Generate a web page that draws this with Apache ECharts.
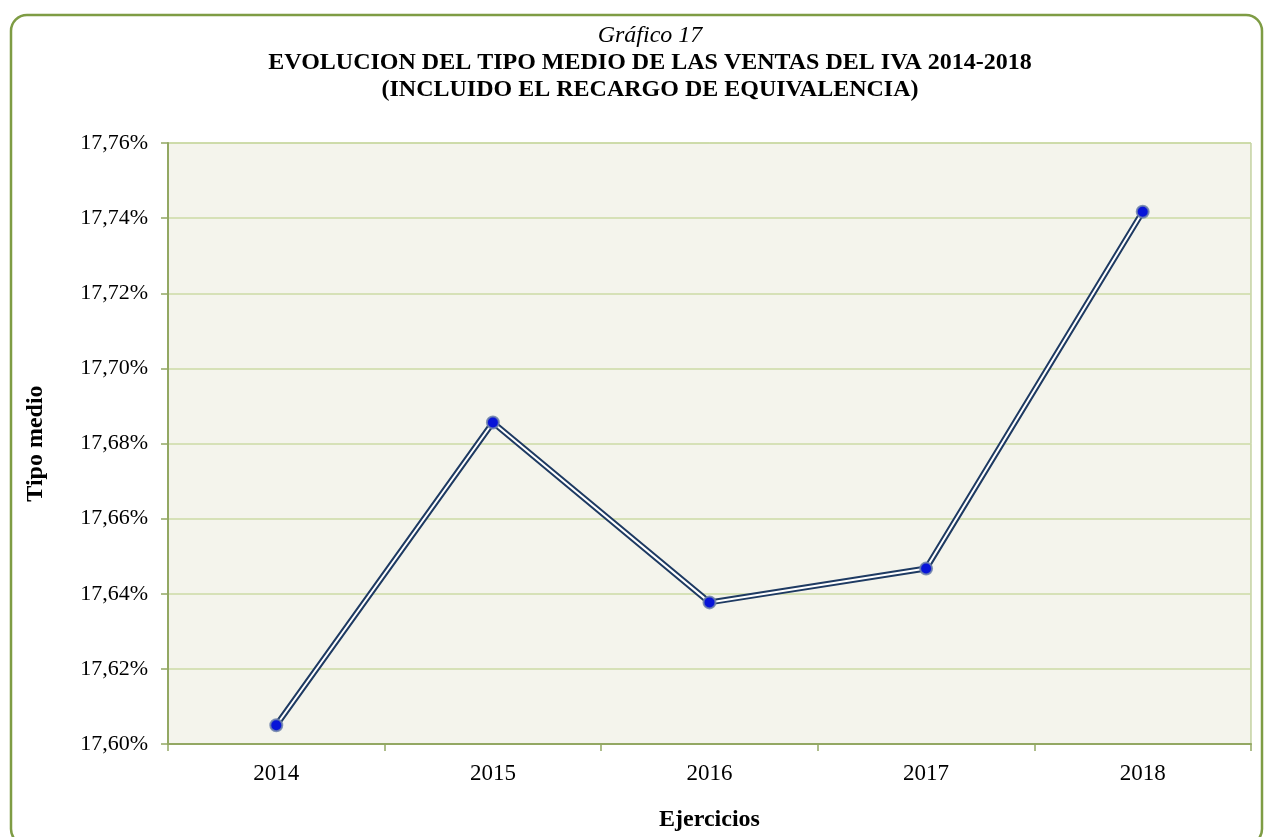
<!DOCTYPE html>
<html>
<head>
<meta charset="utf-8">
<script src="https://cdn.jsdelivr.net/npm/echarts@6/dist/echarts.min.js"></script>
<style>
html,body{margin:0;padding:0;background:#fff;}
#chart{width:1267px;height:837px;}
</style>
</head>
<body>
<div id="chart"></div>
<script>
const categories = ['2014','2015','2016','2017','2018'];
const tipoMedio = [17.605, 17.6856, 17.6377, 17.6467, 17.7417];
const yTicks = {min: 17.60, max: 17.76, interval: 0.02};
const titleLines = ['Gráfico 17', 'EVOLUCION DEL TIPO MEDIO DE LAS VENTAS DEL IVA 2014-2018', '(INCLUIDO EL RECARGO DE EQUIVALENCIA)'];
const xName = 'Ejercicios';
const yName = 'Tipo medio';

const serif = '"Liberation Serif", "Times New Roman", serif';
const chart = echarts.init(document.getElementById('chart'));
chart.setOption({
  animation: false,
  backgroundColor: '#ffffff',
  graphic: [
    {type: 'rect', shape: {x: 11, y: 15, width: 1251, height: 830, r: 16},
     style: {fill: 'none', stroke: '#7E9C44', lineWidth: 2.5}, z: 0},
    {type: 'text', x: 650, y: 36, style: {text: titleLines[0], font: 'italic 24px ' + serif, fill: '#000', textAlign: 'center', textVerticalAlign: 'middle'}},
    {type: 'text', x: 650, y: 63, style: {text: titleLines[1], font: 'bold 24px ' + serif, fill: '#000', textAlign: 'center', textVerticalAlign: 'middle'}},
    {type: 'text', x: 650, y: 90, style: {text: titleLines[2], font: 'bold 24px ' + serif, fill: '#000', textAlign: 'center', textVerticalAlign: 'middle'}}
  ],
  grid: {left: 168, right: 16, top: 143, bottom: 91, show: true, backgroundColor: '#F4F4EC', borderColor: '#A9BF78', borderWidth: 1},
  xAxis: {
    type: 'category', data: categories, boundaryGap: true,
    name: xName, nameLocation: 'middle', nameGap: 64,
    nameTextStyle: {fontFamily: serif, fontWeight: 'bold', fontSize: 24, color: '#000'},
    axisLine: {lineStyle: {color: '#93A863', width: 2}},
    axisTick: {show: true, length: 7, lineStyle: {color: '#93A863', width: 1.5}, alignWithLabel: false},
    axisLabel: {fontFamily: serif, fontSize: 23, color: '#000', margin: 18}
  },
  yAxis: {
    type: 'value', min: yTicks.min, max: yTicks.max, interval: yTicks.interval,
    name: yName, nameLocation: 'middle', nameGap: 120, nameRotate: 90,
    nameTextStyle: {fontFamily: serif, fontWeight: 'bold', fontSize: 24, color: '#000'},
    axisLine: {show: true, lineStyle: {color: '#93A863', width: 2}},
    axisTick: {show: true, length: 7, lineStyle: {color: '#93A863', width: 1.5}},
    splitLine: {show: true, lineStyle: {color: '#CCDBA6', width: 1.5}},
    axisLabel: {fontFamily: serif, fontSize: 22, color: '#000', margin: 20,
      formatter: v => v.toFixed(2).replace('.', ',') + '%'}
  },
  series: [
    {type: 'line', data: tipoMedio, symbol: 'none', lineStyle: {color: '#1E3A62', width: 6}, z: 2, silent: true},
    {type: 'line', data: tipoMedio, symbol: 'circle', symbolSize: 12,
     lineStyle: {color: '#ffffff', width: 2},
     itemStyle: {color: '#0814D8', borderColor: 'rgba(110,130,170,0.85)', borderWidth: 2},
     z: 3}
  ]
});
</script>
</body>
</html>
